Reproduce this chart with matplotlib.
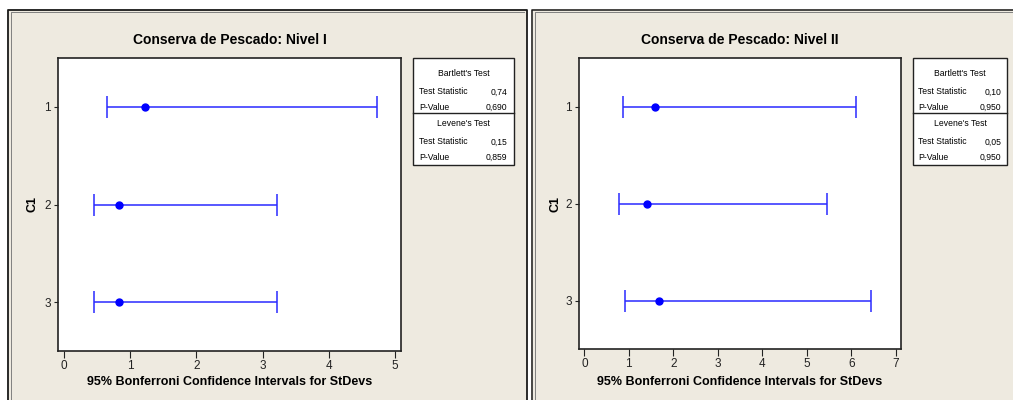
import matplotlib.pyplot as plt
from matplotlib.lines import Line2D
from matplotlib.patches import Rectangle

# data
groups = [1, 2, 3]
sd_1 = [1.22, 0.83, 0.83]
lo_1 = [0.65, 0.46, 0.46]
hi_1 = [4.72, 3.22, 3.22]
sd_2 = [1.59, 1.42, 1.67]
lo_2 = [0.86, 0.77, 0.91]
hi_2 = [6.10, 5.45, 6.44]
titles = ["Conserva de Pescado: Nivel I", "Conserva de Pescado: Nivel II"]
bartlett = [("0,74", "0,690"), ("0,10", "0,950")]
levene = [("0,15", "0,859"), ("0,05", "0,950")]

W, H = 1013, 400
BG = "#eeeae0"
plt.rcParams["font.family"] = ["Liberation Sans", "DejaVu Sans"]

fig = plt.figure(figsize=(W / 100, H / 100), dpi=100)
fig.patch.set_facecolor("white")


def fx(x):
    return x / W


def fy(y):
    return 1 - y / H


def fline(xs, ys, color, lw):
    fig.add_artist(Line2D([fx(v) for v in xs], [fy(v) for v in ys],
                          transform=fig.transFigure, color=color, lw=lw))


# panel backgrounds and frames
fig.add_artist(Rectangle((fx(7), 0), fx(527) - fx(7), fy(9), transform=fig.transFigure,
                         facecolor=BG, edgecolor="none", zorder=0))
fig.add_artist(Rectangle((fx(531), 0), 1 - fx(531), fy(9), transform=fig.transFigure,
                         facecolor=BG, edgecolor="none", zorder=0))
fline([7.5, 7.5, 526.5, 526.5], [400, 9.5, 9.5, 400], "#1a1a1a", 1.3)
fline([10.5, 10.5, 524], [400, 12, 12], "#808080", 0.7)
fline([531.5, 531.5, 1013], [400, 9.5, 9.5], "#1a1a1a", 1.1)
fline([534.5, 534.5, 1013], [400, 12, 12], "#808080", 0.7)

panels = [
    dict(box=(58, 58, 401, 351), xlim=(-0.09, 5.09), xt=range(0, 6),
         sd=sd_1, lo=lo_1, hi=hi_1, leg=(413, 514), tx=(419, 507), ylab=32),
    dict(box=(579, 58, 901, 349), xlim=(-0.12, 7.12), xt=range(0, 8),
         sd=sd_2, lo=lo_2, hi=hi_2, leg=(913, 1007), tx=(918, 1001), ylab=555),
]

for i, p in enumerate(panels):
    x0, y0, x1, y1 = p["box"]
    ax = fig.add_axes([fx(x0), fy(y1), fx(x1) - fx(x0), fy(y0) - fy(y1)])
    ax.set_facecolor("white")
    err = [[s - l for s, l in zip(p["sd"], p["lo"])],
           [h - s for s, h in zip(p["sd"], p["hi"])]]
    ax.errorbar(p["sd"], groups, xerr=err, fmt="o", color="blue", ecolor="#2a2aff",
                elinewidth=1.1, capsize=8, capthick=1.1, markersize=5)
    ax.set_xlim(*p["xlim"])
    ax.set_ylim(3.5, 0.5)
    ax.set_xticks(list(p["xt"]))
    ax.set_yticks(groups)
    ax.tick_params(axis="x", direction="out", length=5, width=0.8, labelsize=8.5,
                   pad=1.5, colors="#222222")
    ax.tick_params(axis="y", direction="out", length=3, width=0.8, labelsize=8.5,
                   pad=2, colors="#222222")
    for sp in ax.spines.values():
        sp.set_color("#222222")
        sp.set_linewidth(1.2)

    fig.text(fx((x0 + x1) / 2), fy(40), titles[i], ha="center", va="center",
             fontsize=10, fontweight="bold")
    fig.text(fx((x0 + x1) / 2), fy(382), "95% Bonferroni Confidence Intervals for StDevs",
             ha="center", va="center", fontsize=9, fontweight="bold")
    fig.text(fx(p["ylab"]), fy(204), "C1", ha="center", va="center", rotation=90,
             fontsize=9, fontweight="bold")

    # test result boxes
    lx0, lx1 = p["leg"]
    fig.add_artist(Rectangle((fx(lx0), fy(165)), fx(lx1) - fx(lx0), fy(58) - fy(165),
                             transform=fig.transFigure, facecolor="white",
                             edgecolor="#222222", lw=1.0))
    fline([lx0, lx1], [113, 113], "#222222", 1.0)
    tl, tr = p["tx"]
    cx = (lx0 + lx1) / 2
    rows = [("Bartlett's Test", 74, None), ("Test Statistic", 92, bartlett[i][0]),
            ("P-Value", 107, bartlett[i][1]), ("Levene's Test", 124, None),
            ("Test Statistic", 142, levene[i][0]), ("P-Value", 157, levene[i][1])]
    for label, yy, val in rows:
        if val is None:
            fig.text(fx(cx), fy(yy), label, ha="center", va="center", fontsize=6.2)
        else:
            fig.text(fx(tl), fy(yy), label, ha="left", va="center", fontsize=6.2)
            fig.text(fx(tr), fy(yy), val, ha="right", va="center", fontsize=6.2)

fig.savefig("out.png", dpi=100, facecolor=fig.get_facecolor())
